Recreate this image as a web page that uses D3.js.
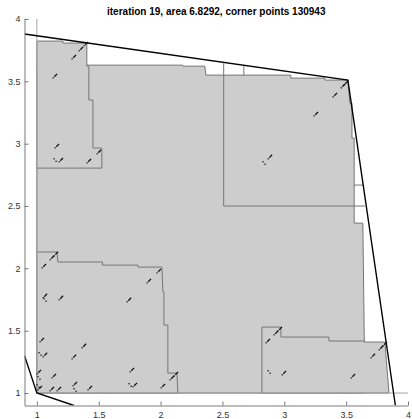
<!DOCTYPE html>
<html lang="en">
<head>
<meta charset="utf-8">
<title>iteration 19</title>
<script src="https://cdn.jsdelivr.net/npm/d3@7"></script>
<style>
  body { margin: 0; background: #fff; font-family: "Liberation Sans", Arial, sans-serif; }
  .axis text { font-size: 9px; fill: #333; font-family: "Liberation Sans", Arial, sans-serif; }
  .axis path, .axis line { stroke: #7a7a7a; }
  .title { font-size: 10px; font-weight: bold; fill: #000; }
</style>
</head>
<body>
<div id="viz"></div>
<script>
// tick values
var xTicks = [1, 1.5, 2, 2.5, 3, 3.5, 4];
var yTicks = [1, 1.5, 2, 2.5, 3, 3.5, 4];

// staircase boxes, drawn in this order (parent first)
var boxBig = [[1,1],[1,3.63],[2.18,3.63],[2.18,3.622],[2.358,3.622],[2.366,3.55],[3.053,3.55],[3.053,3.526],
  [3.328,3.526],[3.328,3.51],[3.514,3.51],[3.53,3.326],[3.547,3.326],[3.547,3.045],[3.565,3.045],
  [3.565,2.363],[3.635,2.363],[3.652,1]];
var boxTopLeft = [[1,2.804],[1,3.823],[1.21,3.823],[1.21,3.807],[1.404,3.807],[1.404,3.622],[1.42,3.622],
  [1.42,3.35],[1.453,3.35],[1.453,2.965],[1.525,2.965],[1.525,2.804]];
var boxLowLeft = [[1,1],[1,2.131],[1.162,2.131],[1.17,2.051],[1.53,2.051],[1.53,2.026],[1.817,2.026],
  [1.817,2.01],[2.011,2.01],[2.019,1.81],[2.027,1.81],[2.027,1.545],[2.059,1.545],[2.059,1.16],
  [2.132,1.16],[2.14,1]];
var boxLowRight = [[2.819,1],[2.819,1.529],[2.973,1.529],[2.973,1.449],[3.361,1.449],[3.361,1.417],
  [3.643,1.417],[3.643,1.409],[3.813,1.409],[3.846,1]];

// open box outlines without fill
var outlines = [
  [[2.51,3.645],[2.51,2.5],[3.652,2.5]],
  [[2.673,3.625],[2.673,3.55]],
  [[3.565,2.668],[3.635,2.668]]
];

// convex hull pieces
var hullTop = [[0.9,3.88],[3.514,3.51],[3.898,0.9]];
var hullLow = [[0.9,1.30],[1,1],[1.30,0.9]];

// corner point clusters (short diagonal streaks)
var streaks = [[1.146,3.542],[1.299,3.694],[1.356,3.759],[1.396,3.799],[1.162,2.981],[1.194,2.868],
  [1.420,2.860],[1.501,2.933],[1.057,2.018],[1.121,2.083],[1.154,2.115],[1.065,1.778],[1.194,1.762],
  [1.744,1.746],[1.986,1.978],[1.905,1.898],[1.040,1.425],[1.065,1.305],[1.299,1.289],[1.380,1.377],
  [1.137,1.136],[1.016,1.168],[1.121,1.032],[1.178,1.032],[1.307,1.072],[1.428,1.040],[1.768,1.184],
  [1.792,1.064],[2.019,1.056],[2.091,1.120],[2.124,1.152],[2.867,1.417],[2.932,1.481],[2.964,1.513],
  [2.997,1.160],[3.555,1.136],[3.716,1.297],[3.781,1.361],[3.813,1.393],[3.255,3.237],[3.409,3.390],
  [3.474,3.462],[3.498,3.486],[2.884,2.893],[1.024,1.040]];
// isolated pairs of dots
var dots = [[1.146,2.868],[1.065,1.746],[1.024,1.313],[1.016,1.120],[1.008,1.056],[1.307,1.024],
  [1.752,1.064],[2.876,1.168],[2.835,2.844]];

var width = 412, height = 419;
var x = d3.scaleLinear().domain([0.9, 4]).range([24.5, 408]);
var y = d3.scaleLinear().domain([0.9, 4]).range([405.5, 19]);

var svg = d3.select("#viz").append("svg")
  .attr("width", width)
  .attr("height", height);

svg.append("clipPath").attr("id", "plotclip")
  .append("rect")
  .attr("x", x(0.9)).attr("y", y(4))
  .attr("width", x(4) - x(0.9)).attr("height", y(0.9) - y(4));

var plot = svg.append("g").attr("clip-path", "url(#plotclip)");

var line = d3.line().x(function(d) { return x(d[0]); }).y(function(d) { return y(d[1]); });

[boxBig, boxTopLeft, boxLowLeft, boxLowRight].forEach(function(b, i) {
  plot.append("path")
    .attr("d", line(b) + "Z")
    .attr("fill", "#cdcdcd")
    .attr("stroke", "#767676")
    .attr("stroke-width", 1);
  if (i === 0) {
    outlines.forEach(function(o) {
      plot.append("path").attr("d", line(o))
        .attr("fill", "none").attr("stroke", "#767676").attr("stroke-width", 1);
    });
  }
});

// boundary lines x = 1 and y = 1
plot.append("path").attr("d", line([[1,4],[1,1],[4,1]]))
  .attr("fill", "none").attr("stroke", "#a4a4a4").attr("stroke-width", 1);

[hullTop, hullLow].forEach(function(h) {
  plot.append("path").attr("d", line(h))
    .attr("fill", "none").attr("stroke", "#000").attr("stroke-width", 1.4);
});

plot.selectAll(".streak")
  .data(streaks)
  .enter().append("line")
  .attr("class", "streak")
  .attr("x1", function(d) { return x(d[0]) - 2.2; })
  .attr("y1", function(d) { return y(d[1]) + 2.2; })
  .attr("x2", function(d) { return x(d[0]) + 2.2; })
  .attr("y2", function(d) { return y(d[1]) - 2.2; })
  .attr("stroke", "#111")
  .attr("stroke-width", 1.3)
  .attr("stroke-dasharray", "1.2,1,5");

plot.selectAll(".dot")
  .data(dots)
  .enter().append("g")
  .attr("class", "dot")
  .each(function(d) {
    var g = d3.select(this);
    g.append("rect").attr("x", x(d[0]) - 1.5).attr("y", y(d[1]) - 2).attr("width", 1.3).attr("height", 1.3).attr("fill", "#111");
    g.append("rect").attr("x", x(d[0]) + 0.5).attr("y", y(d[1]) + 0.5).attr("width", 1.3).attr("height", 1.3).attr("fill", "#111");
  });

svg.append("g")
  .attr("class", "axis")
  .attr("transform", "translate(0," + y(0.9) + ")")
  .call(d3.axisBottom(x).tickValues(xTicks).tickFormat(function(d) { return d; })
    .tickSizeInner(-4).tickSizeOuter(0).tickPadding(6));

svg.append("g")
  .attr("class", "axis")
  .attr("transform", "translate(" + x(0.9) + ",0)")
  .call(d3.axisLeft(y).tickValues(yTicks).tickFormat(function(d) { return d; })
    .tickSizeInner(-4).tickSizeOuter(0).tickPadding(4));

svg.append("text")
  .attr("class", "title")
  .attr("x", (x(0.9) + x(4)) / 2)
  .attr("y", 15)
  .attr("text-anchor", "middle")
  .text("iteration 19, area 6.8292, corner points 130943");
</script>
</body>
</html>
